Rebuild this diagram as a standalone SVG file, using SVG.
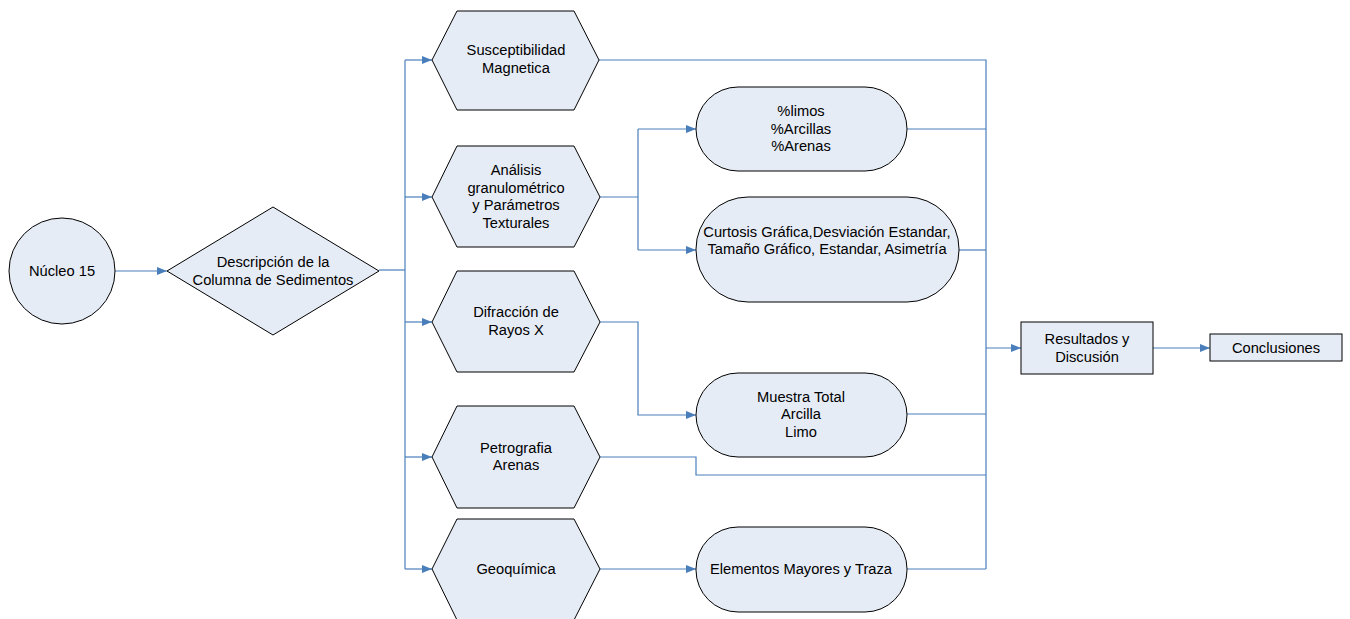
<svg xmlns="http://www.w3.org/2000/svg" width="1350" height="619" viewBox="0 0 1350 619">
<style>
.n{fill:#E6ECF6;stroke:#000;stroke-width:1}
.t{font-family:"Liberation Sans",Arial,sans-serif;font-size:14.7px;fill:#000;text-anchor:middle}
.c{fill:none;stroke:#4A7EBB;stroke-width:1.2}
</style>
<defs>
<marker id="a" markerWidth="10" markerHeight="8" refX="10" refY="4" orient="auto" markerUnits="userSpaceOnUse">
<path d="M0,0 L10,4 L0,8 z" fill="#4A7EBB"/>
</marker>
</defs>
<rect width="1350" height="619" fill="#fff"/>
<g id="connectors">
<path class="c" d="M115,271 H167" marker-end="url(#a)"/>
<path class="c" d="M379,270 H405"/>
<path class="c" d="M405,60 V569"/>
<path class="c" d="M405,60 H432" marker-end="url(#a)"/>
<path class="c" d="M405,197 H432" marker-end="url(#a)"/>
<path class="c" d="M405,322 H432" marker-end="url(#a)"/>
<path class="c" d="M405,457 H432" marker-end="url(#a)"/>
<path class="c" d="M405,569 H432" marker-end="url(#a)"/>
<path class="c" d="M600,197 H638"/>
<path class="c" d="M638,129 V250"/>
<path class="c" d="M638,129 H696" marker-end="url(#a)"/>
<path class="c" d="M638,250 H696" marker-end="url(#a)"/>
<path class="c" d="M600,322 H638 V415 H696" marker-end="url(#a)"/>
<path class="c" d="M600,569 H696" marker-end="url(#a)"/>
<path class="c" d="M599,60 H986 V569"/>
<path class="c" d="M907,129 H986"/>
<path class="c" d="M959,250 H986"/>
<path class="c" d="M907,414 H986"/>
<path class="c" d="M600,457 H696 V475 H986"/>
<path class="c" d="M907,569 H986"/>
<path class="c" d="M986,348 H1021" marker-end="url(#a)"/>
<path class="c" d="M1153,348 H1210" marker-end="url(#a)"/>
</g>
<g id="nucleo"><circle class="n" cx="62" cy="271" r="53"/><text class="t" x="62" y="276">Núcleo 15</text></g>
<g id="descripcion"><polygon class="n" points="167,271 273,207 379,271 273,335"/><text class="t" x="273" y="267">Descripción de la</text><text class="t" x="273" y="285">Columna de Sedimentos</text></g>
<g id="susceptibilidad"><polygon class="n" points="432,60 457,11 574,11 599,60 574,110 457,110"/><text class="t" x="516" y="55">Susceptibilidad</text><text class="t" x="516" y="73">Magnetica</text></g>
<g id="analisis"><polygon class="n" points="432,197 457,146 574,146 600,197 574,247 457,247"/><text class="t" x="516" y="175">Análisis</text><text class="t" x="516" y="193">granulométrico</text><text class="t" x="516" y="210">y Parámetros</text><text class="t" x="516" y="228">Texturales</text></g>
<g id="difraccion"><polygon class="n" points="432,322 457,271 574,271 600,322 574,372 457,372"/><text class="t" x="516" y="317">Difracción de</text><text class="t" x="516" y="335">Rayos X</text></g>
<g id="petrografia"><polygon class="n" points="432,457 457,406 574,406 600,457 574,508 457,508"/><text class="t" x="516" y="453">Petrografia</text><text class="t" x="516" y="470">Arenas</text></g>
<g id="geoquimica"><polygon class="n" points="432,569 457,519 574,519 600,569 574,620 457,620"/><text class="t" x="516" y="574">Geoquímica</text></g>
<g id="limos"><rect class="n" x="696" y="87" width="211" height="84" rx="42" ry="42"/><text class="t" x="801" y="116">%limos</text><text class="t" x="801" y="134">%Arcillas</text><text class="t" x="801" y="151">%Arenas</text></g>
<g id="curtosis"><rect class="n" x="696" y="197" width="263" height="105" rx="52" ry="52"/><text class="t" x="827" y="237">Curtosis Gráfica,Desviación Estandar,</text><text class="t" x="827" y="254">Tamaño Gráfico, Estandar, Asimetría</text></g>
<g id="muestra"><rect class="n" x="696" y="373" width="211" height="84" rx="42" ry="42"/><text class="t" x="801" y="402">Muestra Total</text><text class="t" x="801" y="419">Arcilla</text><text class="t" x="801" y="437">Limo</text></g>
<g id="elementos"><rect class="n" x="696" y="527" width="211" height="85" rx="42" ry="42"/><text class="t" x="801" y="574">Elementos Mayores y Traza</text></g>
<g id="resultados"><rect class="n" x="1021" y="322" width="132" height="52"/><text class="t" x="1087" y="344">Resultados y</text><text class="t" x="1087" y="362">Discusión</text></g>
<g id="conclusiones"><rect class="n" x="1210" y="334" width="132" height="27"/><text class="t" x="1276" y="353">Conclusiones</text></g>
</svg>
